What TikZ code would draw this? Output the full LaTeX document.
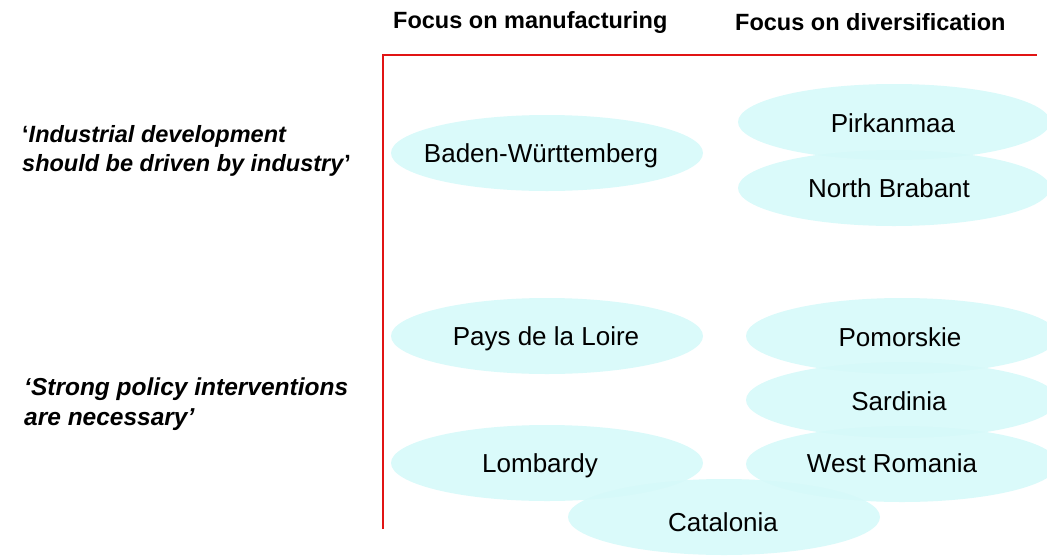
\documentclass[tikz,border=0pt]{standalone}
\usepackage{fontspec}
\setmainfont{Liberation Sans}
\usetikzlibrary{shapes.geometric}
\definecolor{regionfill}{RGB}{214,249,249}
\definecolor{axisred}{RGB}{225,20,20}
\begin{document}
\begin{tikzpicture}[x=1pt,y=-1pt,
  region/.style={ellipse, fill=regionfill, fill opacity=0.9,
    minimum width=312pt, minimum height=76pt, inner sep=0pt},
  regionname/.style={anchor=base, inner sep=0pt, font=\fontsize{26}{30}\selectfont},
  heading/.style={anchor=west, inner sep=0pt, font=\bfseries\fontsize{23.5}{28}\selectfont},
  stance/.style={anchor=west, inner sep=0pt, align=left, font=\bfseries\fontsize{23.5}{29.5}\selectfont},
  axis/.style={draw=axisred, line width=1.4pt}]
\useasboundingbox (0,0) rectangle (1047,555);

% column headings
\node[heading] (hman) at (393,22) {Focus on manufacturing};
\node[heading] (hdiv) at (735,22) {Focus on diversification};

% row stances
\node[stance] (rind) at (22,151) {‘\textit{Industrial development}\\\textit{should be driven by industry}’};
\node[stance, font=\bfseries\fontsize{24.5}{29.5}\selectfont] (rpol) at (24,404) {\textit{‘Strong policy interventions}\\\textit{are necessary’}};

% axes
\coordinate (origin) at (383,529);
\coordinate (corner) at (383,55);
\coordinate (xend) at (1037,55);
\draw[axis] (origin) -- (corner) -- (xend);

% regions: shapes
\node[region] (bw)  at (547,153) {};
\node[region] (pdl) at (547,336) {};
\node[region] (lom) at (547,463) {};
\node[region] (pir) at (894,122) {};
\node[region] (nb)  at (894,188) {};
\node[region] (pom) at (902,336) {};
\node[region] (sar) at (902,400) {};
\node[region] (wro) at (902,464) {};
\node[region] (cat) at (724,517) {};

% regions: names
\node[regionname] (bwt)  at (541,162.5) {Baden-Württemberg};
\node[regionname] (pdlt) at (546,345.5) {Pays de la Loire};
\node[regionname] (lomt) at (540,472.5) {Lombardy};
\node[regionname] (pirt) at (893,132.5) {Pirkanmaa};
\node[regionname] (nbt)  at (889,197.5) {North Brabant};
\node[regionname] (pomt) at (900,346.5) {Pomorskie};
\node[regionname] (sart) at (899,410.5) {Sardinia};
\node[regionname] (wrot) at (892,472.5) {West Romania};
\node[regionname] (catt) at (723,531.5) {Catalonia};
\end{tikzpicture}
\end{document}
